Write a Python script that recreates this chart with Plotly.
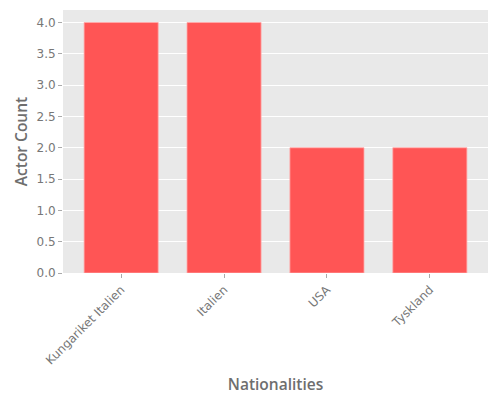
import plotly.graph_objects as go

categories = ["Kungariket Italien", "Italien", "USA", "Tyskland"]
counts = [4, 4, 2, 2]

fig = go.Figure(go.Bar(
    x=categories, y=counts,
    marker=dict(color="#FF5555", line=dict(color="rgba(255,170,170,0.8)", width=1)),
    width=0.72,
))
fig.update_layout(
    width=500, height=400,
    margin=dict(l=63, r=12, t=10, b=127),
    paper_bgcolor="white", plot_bgcolor="#E9E9E9",
    font=dict(family="DejaVu Sans", color="#777777", size=12),
    showlegend=False,
)
title_font = dict(family="Open Sans", size=15.5, color="#6E6E6E", weight=600)
fig.update_xaxes(
    automargin=False,
    range=[-0.565, 3.565], tickangle=-45, ticks="outside", ticklen=4, tickcolor="#AAAAAA",
    showgrid=False, tickfont=dict(size=12, color="#777777"),
    title=dict(text="Nationalities", font=title_font, standoff=12),
)
fig.update_yaxes(
    automargin=False,
    range=[0, 4.2], dtick=0.5, tickformat=".1f", ticks="outside", ticklen=4, tickcolor="#AAAAAA",
    gridcolor="white", gridwidth=1, zeroline=False, tickfont=dict(size=12, color="#777777"),
    title=dict(text="Actor Count", font=title_font, standoff=5),
)
fig.write_html("out.html")
